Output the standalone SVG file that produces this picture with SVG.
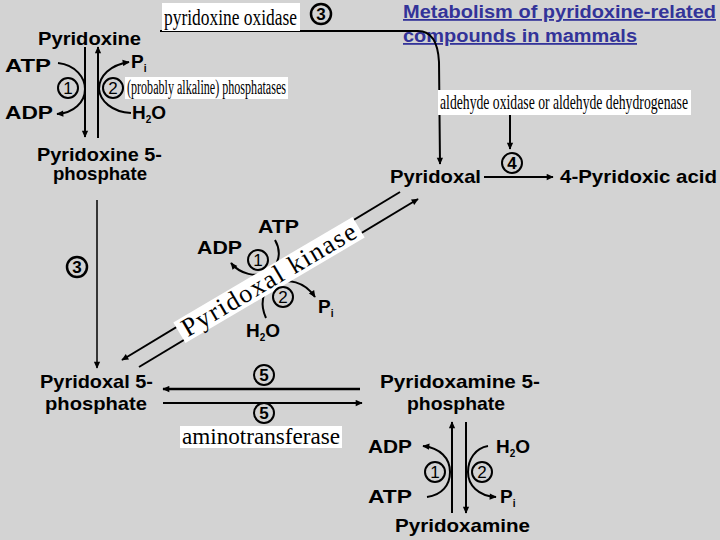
<svg xmlns="http://www.w3.org/2000/svg" width="720" height="540" viewBox="0 0 720 540">
<defs>
<marker id="ah" viewBox="0 0 10 10" refX="9" refY="5" markerWidth="8" markerHeight="7" markerUnits="userSpaceOnUse" orient="auto">
<path d="M0,0.5 L10,5 L0,9.5 z" fill="#000"/>
</marker>
<style>
.lbl{font-family:"Liberation Sans",Arial,sans-serif;font-weight:bold;font-size:19px;fill:#000}
.sub{font-size:10px}
.enz{font-family:"Liberation Serif","Times New Roman",serif;fill:#000}
.box{fill:#fff}
.num{font-family:"Liberation Sans",Arial,sans-serif;font-size:17px;fill:#000;text-anchor:middle}
.ring{fill:none;stroke:#000;stroke-width:2}
.arr{fill:none;stroke:#000;stroke-width:2;marker-end:url(#ah)}
.title{font-family:"Liberation Sans",Arial,sans-serif;font-weight:bold;font-size:18px;fill:#333399;text-decoration:underline}
</style>
</defs>
<rect width="720" height="540" fill="#d3d3d3"/>

<g id="title">
<text class="title" x="403" y="18" textLength="313" lengthAdjust="spacingAndGlyphs">Metabolism of pyridoxine-related</text>
<text class="title" x="403" y="42" textLength="234" lengthAdjust="spacingAndGlyphs">compounds in mammals</text>
</g>

<g id="connectors">
<path class="arr" d="M160,31 L418,31 C432,31 438,42 439,62 L440,164"/>
<path class="arr" d="M85,47 L85,137"/>
<path class="arr" d="M98,138 L98,47"/>
<path class="arr" d="M58,63 C76,65 85,78 85,89 C85,102 74,113 57,114"/>
<path class="arr" d="M131,113 C112,112 100,101 99,89 C99,76 110,65 129,62"/>
<path class="arr" style="stroke-width:1.5" d="M97,200 L97,368"/>
<path class="arr" d="M510,115 L510,149"/>
<path class="arr" d="M484,177 L553,177"/>
<path class="arr" d="M400,192 L122,360"/>
<path class="arr" d="M139,367 L418,199"/>
<path class="arr" d="M275,240 C282,252 279,266 268,272 C256,278 240,274 231,263"/>
<path class="arr" d="M266,318 C260,305 262,291 272,285 C288,277 305,282 315,297"/>
<path class="arr" style="stroke-width:2.5" d="M360,389 L163,389"/>
<path class="arr" d="M163,403 L362,403"/>
<path class="arr" d="M452,513 L452,422"/>
<path class="arr" d="M466,422 L466,513"/>
<path class="arr" d="M427,497 C442,495 450,485 450,472 C450,458 440,448 423,446"/>
<path class="arr" d="M488,446 C475,448 468,460 468,472 C468,485 478,496 496,497"/>
</g>

<g id="enzyme-labels">
<rect class="box" x="162" y="3" width="138" height="28"/>
<text class="enz" x="164" y="25" font-size="24" textLength="133" lengthAdjust="spacingAndGlyphs">pyridoxine oxidase</text>
<rect class="box" x="125" y="77" width="163" height="22"/>
<text class="enz" x="127" y="94" font-size="20" textLength="159" lengthAdjust="spacingAndGlyphs">(probably alkaline) phosphatases</text>
<rect class="box" x="438" y="90" width="253" height="25"/>
<text class="enz" x="440" y="109" font-size="21" textLength="248" lengthAdjust="spacingAndGlyphs">aldehyde oxidase or aldehyde dehydrogenase</text>
<rect class="box" x="180" y="426" width="162" height="22"/>
<text class="enz" x="182" y="444" font-size="24" textLength="158" lengthAdjust="spacingAndGlyphs">aminotransferase</text>
<g transform="translate(269,280) rotate(-30.5)">
<rect class="box" x="-104" y="-12" width="208" height="24"/>
<text class="enz" x="0" y="8" font-size="26" text-anchor="middle" textLength="198" lengthAdjust="spacing">Pyridoxal kinase</text>
</g>
</g>

<g id="pyridoxine"><text class="lbl" x="38" y="45" textLength="103" lengthAdjust="spacingAndGlyphs">Pyridoxine</text></g>
<g id="pyridoxine-cofactors">
<text class="lbl" x="5" y="72" textLength="46" lengthAdjust="spacingAndGlyphs">ATP</text>
<text class="lbl" x="5" y="119" textLength="48" lengthAdjust="spacingAndGlyphs">ADP</text>
<text class="lbl" x="131" y="68">P<tspan class="sub" dy="4">i</tspan></text>
<text class="lbl" x="132" y="119">H<tspan class="sub" dy="4">2</tspan><tspan dy="-4">O</tspan></text>
<circle class="ring" cx="68" cy="88" r="10"/><text class="num" x="68" y="94">1</text>
<circle class="ring" cx="113" cy="88" r="10"/><text class="num" x="113" y="94">2</text>
<circle class="ring" style="stroke-width:2.5" cx="321" cy="14" r="10"/><text class="num" style="font-weight:bold" x="321" y="20">3</text>
</g>
<g id="pyridoxine-5-phosphate">
<text class="lbl" x="37" y="161" textLength="125" lengthAdjust="spacingAndGlyphs">Pyridoxine 5-</text>
<text class="lbl" x="53" y="180" textLength="94" lengthAdjust="spacingAndGlyphs">phosphate</text>
</g>
<g id="step3"><circle class="ring" style="stroke-width:2.5" cx="77" cy="267" r="10"/><text class="num" style="font-weight:bold" x="77" y="273">3</text></g>

<g id="pyridoxal">
<text class="lbl" x="390" y="183" textLength="91" lengthAdjust="spacingAndGlyphs">Pyridoxal</text>
</g>
<g id="step4"><circle class="ring" cx="512" cy="163" r="10"/><text class="num" style="font-weight:bold" x="512" y="169">4</text></g>
<g id="pyridoxic-acid">
<text class="lbl" x="560" y="183" textLength="157" lengthAdjust="spacingAndGlyphs">4-Pyridoxic acid</text>
</g>

<g id="kinase-cofactors">
<text class="lbl" x="258" y="233" textLength="41" lengthAdjust="spacingAndGlyphs">ATP</text>
<text class="lbl" x="197" y="254" textLength="45" lengthAdjust="spacingAndGlyphs">ADP</text>
<circle class="ring" cx="258" cy="260" r="10"/><text class="num" x="258" y="266">1</text>
<circle class="ring" cx="283" cy="297" r="10"/><text class="num" x="283" y="303">2</text>
<text class="lbl" x="318" y="313">P<tspan class="sub" dy="4">i</tspan></text>
<text class="lbl" x="246" y="337">H<tspan class="sub" dy="4">2</tspan><tspan dy="-4">O</tspan></text>
</g>

<g id="pyridoxal-5-phosphate">
<text class="lbl" x="40" y="388" textLength="113" lengthAdjust="spacingAndGlyphs">Pyridoxal 5-</text>
<text class="lbl" x="45" y="410" textLength="102" lengthAdjust="spacingAndGlyphs">phosphate</text>
</g>
<g id="step5">
<circle class="ring" cx="264" cy="375" r="10"/><text class="num" style="font-weight:bold" x="264" y="381">5</text>
<circle class="ring" cx="264" cy="413" r="10"/><text class="num" style="font-weight:bold" x="264" y="419">5</text>
</g>

<g id="pyridoxamine-5-phosphate">
<text class="lbl" x="380" y="388" textLength="160" lengthAdjust="spacingAndGlyphs">Pyridoxamine 5-</text>
<text class="lbl" x="407" y="410" textLength="98" lengthAdjust="spacingAndGlyphs">phosphate</text>
</g>
<g id="pyridoxamine-cofactors">
<text class="lbl" x="368" y="453" textLength="44" lengthAdjust="spacingAndGlyphs">ADP</text>
<text class="lbl" x="368" y="503" textLength="44" lengthAdjust="spacingAndGlyphs">ATP</text>
<text class="lbl" x="496" y="453">H<tspan class="sub" dy="4">2</tspan><tspan dy="-4">O</tspan></text>
<text class="lbl" x="500" y="503">P<tspan class="sub" dy="4">i</tspan></text>
<circle class="ring" cx="435" cy="472" r="10"/><text class="num" x="435" y="478">1</text>
<circle class="ring" cx="482" cy="472" r="10"/><text class="num" x="482" y="478">2</text>
</g>
<g id="pyridoxamine">
<text class="lbl" x="395" y="532" textLength="135" lengthAdjust="spacingAndGlyphs">Pyridoxamine</text>
</g>
</svg>
